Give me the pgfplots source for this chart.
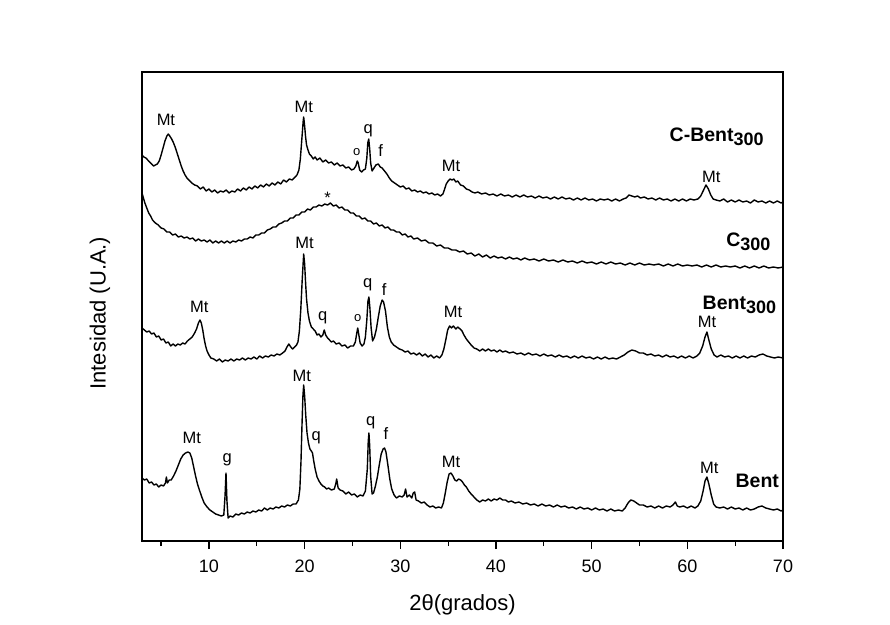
\documentclass[border=0pt]{standalone}
\usepackage{pgfplots}
\pgfplotsset{compat=1.18}
\usepackage{fontspec}
\setmainfont{Liberation Sans}
\newcommand{\pk}[1]{{\fontsize{16.5}{18}\selectfont #1}}
\newcommand{\pko}{{\fontsize{13}{15}\selectfont o}}
\newcommand{\sname}[2]{{\fontsize{19.5}{22}\selectfont\bfseries #1\raisebox{-0.35ex}{\fontsize{18}{20}\selectfont #2}}}
\tikzset{xrd/.style={black, line width=1.4pt, line join=round, mark=none}}
\begin{document}
\begin{tikzpicture}[x=1pt,y=1pt]
\useasboundingbox (-142,-83) rectangle (748,541);
\begin{axis}[
 scale only axis, width=641pt, height=469pt,
 xmin=3, xmax=70, ymin=0, ymax=469,
 xtick={10,20,...,70}, minor xtick={5,15,...,65},
 ytick=\empty,
 xtick pos=left, tick align=outside,
 major tick length=8pt, minor tick length=5pt,
 axis line style={line width=1.4pt},
 every tick/.style={black, line width=1.3pt},
 tick label style={font=\fontsize{18}{21}\selectfont},
 xticklabel style={yshift=-7pt},
 /pgf/number format/assume math mode=true,
 xlabel={2θ(grados)}, ylabel={Intesidad (U.A.)},
 label style={font=\fontsize{22}{26}\selectfont},
 xlabel style={at={(axis description cs:0.5,-0.135)}, anchor=center},
 ylabel style={at={(axis description cs:-0.0655,0.486)}, anchor=center},
 clip=false,
]
% C-Bent300
\addplot[xrd] table {
3.0 386
3.2 384
3.4 383
3.6 381
3.8 379
4.0 377
4.2 375
4.4 376
4.6 377
4.8 380
5.0 386
5.2 393
5.4 400
5.6 405
5.75 407
5.9 405
6.1 402
6.3 398
6.5 393
6.7 387
6.9 381
7.1 375
7.3 370
7.5 366
7.7 363
7.9 361
8.2 358
8.5 356
8.8 355
9.1 352
9.4 354
9.7 350
10.0 352
10.3 349
10.6 351
10.9 348
11.2 350
11.5 349
11.8 351
12.1 348
12.4 350
12.7 349
13.0 352
13.3 350
13.6 353
13.9 351
14.2 354
14.5 352
14.8 355
15.1 353
15.4 356
15.7 354
16.0 357
16.3 355
16.6 358
16.9 356
17.2 359
17.5 357
17.8 361
18.1 359
18.4 362
18.7 361
19.0 364
19.2 366
19.4 371
19.55 382
19.7 401
19.85 420
19.9 424
20.0 415
20.1 404
20.2 396
20.35 391
20.5 387
20.7 385
20.9 382
21.1 384
21.3 381
21.6 383
21.9 379
22.2 381
22.5 378
22.8 379
23.1 376
23.4 378
23.7 375
24.0 376
24.3 373
24.6 374
24.9 371
25.15 372
25.35 375
25.5 380
25.6 378
25.75 371
25.95 369
26.15 371
26.35 372
26.5 383
26.6 398
26.7 402
26.8 392
26.9 378
27.05 370
27.25 373
27.45 376
27.7 377
27.9 374
28.1 373
28.35 370
28.6 367
28.85 363
29.1 360
29.4 358
29.7 356
30.0 354
30.3 355
30.6 352
30.9 353
31.2 350
31.5 351
31.8 349
32.1 350
32.4 348
32.7 349
33.0 347
33.3 348
33.6 346
33.9 347
34.2 345
34.45 347
34.6 351
34.8 357
35.0 360
35.2 362
35.4 361
35.6 362
35.8 359
36.0 360
36.3 356
36.6 355
36.9 352
37.2 351
37.5 349
37.8 348
38.1 349
38.5 347
38.9 348
39.3 346
39.7 347
40.1 345
40.5 347
40.9 345
41.3 346
41.7 344
42.1 346
42.5 344
42.9 346
43.3 344
43.7 345
44.1 343
44.5 345
44.9 343
45.3 344
45.7 342
46.1 344
46.5 342
46.9 344
47.3 342
47.7 343
48.1 341
48.5 343
48.9 341
49.3 343
49.7 341
50.1 342
50.5 340
50.9 342
51.3 341
51.7 342
52.1 340
52.5 342
52.9 340
53.3 342
53.6 343
53.9 346
54.2 345
54.5 344
54.8 345
55.1 343
55.5 344
55.9 342
56.3 343
56.7 341
57.1 343
57.5 341
57.9 342
58.3 340
58.7 342
59.1 340
59.5 342
59.9 340
60.3 342
60.7 341
61.1 342
61.4 345
61.7 351
61.95 356
62.2 352
62.45 346
62.7 342
63.0 341
63.4 340
63.8 342
64.2 339
64.6 341
65.0 339
65.4 341
65.8 339
66.2 340
66.6 338
67.0 341
67.4 339
67.8 340
68.2 338
68.6 340
69.0 338
69.4 340
69.8 338
70.0 339
};
% C300
\addplot[xrd] table {
3.0 348
3.15 343
3.3 338
3.5 333
3.7 328
3.9 325
4.1 321
4.4 318
4.7 316
5.0 313
5.3 312
5.6 309
5.9 309
6.2 306
6.5 307
6.8 304
7.1 305
7.4 303
7.7 304
8.0 302
8.3 303
8.6 300
8.9 302
9.2 300
9.5 301
9.8 299
10.1 301
10.4 298
10.7 300
11.0 298
11.3 300
11.6 298
11.9 300
12.2 298
12.5 300
12.8 299
13.1 301
13.4 300
13.7 302
14.0 302
14.3 304
14.6 303
14.9 306
15.2 306
15.5 308
15.8 308
16.1 311
16.4 312
16.7 314
17.0 314
17.3 317
17.6 318
17.9 320
18.2 320
18.5 323
18.8 323
19.1 326
19.4 326
19.7 329
20.0 329
20.3 332
20.6 331
20.9 334
21.2 334
21.5 336
21.8 335
22.1 337
22.4 336
22.7 338
23.0 335
23.3 336
23.6 333
23.9 334
24.2 331
24.5 331
24.8 328
25.1 328
25.4 325
25.7 325
26.0 322
26.3 323
26.6 320
26.9 320
27.2 317
27.5 318
27.8 315
28.1 316
28.4 313
28.7 314
29.0 311
29.3 311
29.6 309
29.9 309
30.2 306
30.5 307
30.8 304
31.1 305
31.4 302
31.8 303
32.2 300
32.6 301
33.0 298
33.4 298
33.8 295
34.2 296
34.6 293
35.0 293
35.4 291
35.8 291
36.2 289
36.6 290
37.0 287
37.4 288
37.8 285
38.2 287
38.6 284
39.0 286
39.4 283
39.8 285
40.2 283
40.6 284
41.0 282
41.4 284
41.8 282
42.2 283
42.6 281
43.0 283
43.5 281
44.0 282
44.5 280
45.0 282
45.5 280
46.0 281
46.5 279
47.0 281
47.5 279
48.0 280
48.5 278
49.0 280
49.5 278
50.0 279
50.5 277
51.0 279
51.5 277
52.0 279
52.5 277
53.0 278
53.5 276
54.0 278
54.5 276
55.0 278
55.5 276
56.0 277
56.5 276
57.0 277
57.5 275
58.0 277
58.5 275
59.0 277
59.5 275
60.0 276
60.5 275
61.0 276
61.5 274
62.0 276
62.5 274
63.0 276
63.5 274
64.0 275
64.5 274
65.0 275
65.5 273
66.0 275
66.5 273
67.0 275
67.5 273
68.0 275
68.5 273
69.0 274
69.5 273
70.0 274
};
% Bent300
\addplot[xrd] table {
3.0 213
3.25 211
3.5 209
3.75 210
4.0 207
4.25 208
4.5 204
4.75 205
5.0 201
5.25 202
5.5 198
5.75 199
6.0 195
6.25 197
6.5 195
6.75 197
7.0 196
7.25 198
7.5 197
7.75 200
8.0 202
8.25 204
8.5 208
8.7 212
8.9 218
9.06 221
9.2 218
9.35 211
9.5 202
9.65 195
9.8 190
10.0 186
10.2 183
10.5 182
10.8 180
11.1 182
11.4 179
11.7 181
12.0 180
12.3 182
12.6 180
12.9 182
13.2 181
13.5 183
13.8 181
14.1 183
14.4 182
14.7 184
15.0 182
15.3 185
15.6 183
15.9 185
16.2 184
16.5 186
16.8 185
17.1 187
17.4 186
17.7 188
17.95 190
18.15 194
18.35 197
18.55 194
18.75 192
18.95 194
19.15 196
19.3 199
19.45 210
19.6 232
19.75 262
19.9 287
20.0 277
20.1 258
20.2 242
20.35 228
20.5 220
20.7 214
20.9 212
21.1 210
21.3 206
21.5 207
21.7 204
21.9 206
22.05 211
22.2 206
22.4 203
22.6 201
22.8 199
23.0 200
23.3 197
23.6 198
23.9 195
24.2 196
24.5 193
24.8 195
25.1 195
25.3 199
25.45 208
25.55 213
25.65 207
25.8 198
26.0 195
26.2 197
26.35 204
26.5 221
26.62 240
26.72 244
26.82 233
26.95 213
27.1 200
27.3 204
27.5 212
27.7 224
27.9 235
28.1 241
28.25 239
28.45 230
28.65 214
28.85 204
29.05 199
29.3 196
29.6 194
29.9 192
30.2 191
30.5 189
30.8 190
31.1 187
31.4 188
31.7 186
32.0 188
32.3 185
32.6 187
32.9 184
33.2 186
33.5 183
33.8 185
34.1 183
34.35 186
34.55 192
34.75 201
34.95 211
35.15 215
35.35 213
35.55 215
35.8 212
36.0 214
36.25 212
36.45 210
36.65 206
36.9 202
37.15 199
37.4 196
37.7 193
38.0 192
38.3 190
38.6 192
38.9 190
39.2 192
39.5 190
39.8 191
40.1 189
40.4 191
40.7 189
41.0 190
41.4 188
41.8 189
42.2 187
42.6 188
43.0 186
43.4 188
43.8 186
44.2 187
44.6 185
45.0 187
45.4 185
45.8 186
46.2 184
46.6 186
47.0 184
47.4 185
47.8 183
48.2 185
48.6 183
49.0 185
49.4 183
49.8 184
50.2 182
50.6 184
51.0 182
51.4 184
51.8 182
52.2 183
52.6 182
53.0 184
53.4 186
53.8 189
54.2 191
54.6 190
55.0 188
55.4 188
55.8 186
56.2 187
56.6 185
57.0 186
57.4 184
57.8 186
58.2 184
58.6 185
59.0 183
59.4 185
59.8 183
60.2 185
60.6 183
61.0 185
61.3 188
61.6 195
61.85 204
62.05 209
62.25 201
62.5 192
62.8 186
63.1 184
63.5 186
63.9 184
64.3 185
64.7 183
65.1 185
65.5 183
65.9 185
66.3 183
66.7 185
67.1 184
67.5 186
67.9 187
68.3 185
68.7 184
69.1 183
69.5 184
70.0 183
};
% Bent
\addplot[xrd] table {
3.0 63
3.25 61
3.5 62
3.75 58
4.0 59
4.25 56
4.5 57
4.75 54
5.0 56
5.25 55
5.45 58
5.55 64
5.65 58
5.85 61
6.05 61
6.3 65
6.55 70
6.8 76
7.05 82
7.3 86
7.55 88
7.8 89
8.0 88
8.2 83
8.4 74
8.6 65
8.8 57
9.0 51
9.25 44
9.5 38
9.8 34
10.1 31
10.4 29
10.7 27
11.0 26
11.3 25
11.55 26
11.68 45
11.78 68
11.88 40
12.0 23
12.2 25
12.5 24
12.8 27
13.1 26
13.4 28
13.7 27
14.0 29
14.3 28
14.6 30
14.9 29
15.2 31
15.5 30
15.8 33
16.1 31
16.4 33
16.7 32
17.0 34
17.3 33
17.6 35
17.9 34
18.2 36
18.5 35
18.8 37
19.1 37
19.35 41
19.5 52
19.62 80
19.72 115
19.82 145
19.9 156
20.0 145
20.12 125
20.25 108
20.4 98
20.55 92
20.7 90
20.82 88
20.95 80
21.1 72
21.3 64
21.5 60
21.7 57
21.9 55
22.1 54
22.3 52
22.5 53
22.8 51
23.1 52
23.25 57
23.35 62
23.5 53
23.7 51
24.0 50
24.3 47
24.6 49
24.9 46
25.2 47
25.5 44
25.8 46
26.1 45
26.35 50
26.55 72
26.65 100
26.72 108
26.8 95
26.9 65
27.05 47
27.2 48
27.4 55
27.6 64
27.8 76
28.0 87
28.2 92
28.35 93
28.5 89
28.7 76
28.9 62
29.1 52
29.35 46
29.6 43
29.9 45
30.2 44
30.4 46
30.55 52
30.7 44
30.95 46
31.2 43
31.35 48
31.5 49
31.65 41
31.9 40
32.2 38
32.5 39
32.8 36
33.1 34
33.4 35
33.7 33
34.0 34
34.3 33
34.5 38
34.7 48
34.9 59
35.1 67
35.3 68
35.5 65
35.7 61
35.9 60
36.1 62
36.3 61
36.5 59
36.7 56
36.9 54
37.15 50
37.4 47
37.7 44
38.0 41
38.3 39
38.6 41
38.9 40
39.2 42
39.5 40
39.8 42
40.1 41
40.4 43
40.7 41
41.0 41
41.3 39
41.6 40
42.0 38
42.4 39
42.8 37
43.2 38
43.6 36
44.0 37
44.4 35
44.8 37
45.2 35
45.6 36
46.0 34
46.4 36
46.8 34
47.2 35
47.6 33
48.0 34
48.4 32
48.8 34
49.2 32
49.6 33
50.0 31
50.4 33
50.8 31
51.2 32
51.6 30
52.0 32
52.4 30
52.8 31
53.2 30
53.5 33
53.8 38
54.1 41
54.4 40
54.7 38
55.0 36
55.4 36
55.8 34
56.2 35
56.6 33
57.0 35
57.4 33
57.8 35
58.2 34
58.5 36
58.75 39
58.95 35
59.2 34
59.6 35
60.0 33
60.4 35
60.8 33
61.1 35
61.4 40
61.65 50
61.85 60
62.05 64
62.25 57
62.5 46
62.75 37
63.0 34
63.4 33
63.8 34
64.2 32
64.6 34
65.0 32
65.4 33
65.8 31
66.2 33
66.6 31
67.0 32
67.4 34
67.8 35
68.2 33
68.6 32
69.0 31
69.4 32
69.8 30
70.0 31
};
% peak labels C-Bent300
\node at (axis cs:5.5,421) {\pk{Mt}};
\node at (axis cs:19.9,434) {\pk{Mt}};
\node at (axis cs:25.45,389) {\pko};
\node at (axis cs:26.65,410) {\pk{q}};
\node at (axis cs:27.95,390) {\pk{f}};
\node at (axis cs:35.3,375) {\pk{Mt}};
\node at (axis cs:62.5,364) {\pk{Mt}};
% C300
\node at (axis cs:22.4,343) {\pk{*}};
% Bent300
\node at (axis cs:9.0,234) {\pk{Mt}};
\node at (axis cs:20.0,298) {\pk{Mt}};
\node at (axis cs:21.9,223) {\pk{q}};
\node at (axis cs:25.54,223) {\pko};
\node at (axis cs:26.6,256) {\pk{q}};
\node at (axis cs:28.3,251) {\pk{f}};
\node at (axis cs:35.5,229) {\pk{Mt}};
\node at (axis cs:62.05,219) {\pk{Mt}};
% Bent
\node at (axis cs:8.2,103) {\pk{Mt}};
\node at (axis cs:11.9,81) {\pk{g}};
\node at (axis cs:19.7,165) {\pk{Mt}};
\node at (axis cs:21.2,103) {\pk{q}};
\node at (axis cs:26.9,118) {\pk{q}};
\node at (axis cs:28.5,107) {\pk{f}};
\node at (axis cs:35.3,79) {\pk{Mt}};
\node at (axis cs:62.3,73) {\pk{Mt}};
% series names
\node[anchor=base east, inner sep=0pt] at (axis cs:68.0,399) {\sname{C-Bent}{300}};
\node[anchor=base east, inner sep=0pt] at (axis cs:68.7,294) {\sname{C}{300}};
\node[anchor=base east, inner sep=0pt] at (axis cs:69.3,231) {\sname{Bent}{300}};
\node[anchor=base east, inner sep=0pt] at (axis cs:69.6,54) {\sname{Bent}{}};
\end{axis}
\end{tikzpicture}
\end{document}
